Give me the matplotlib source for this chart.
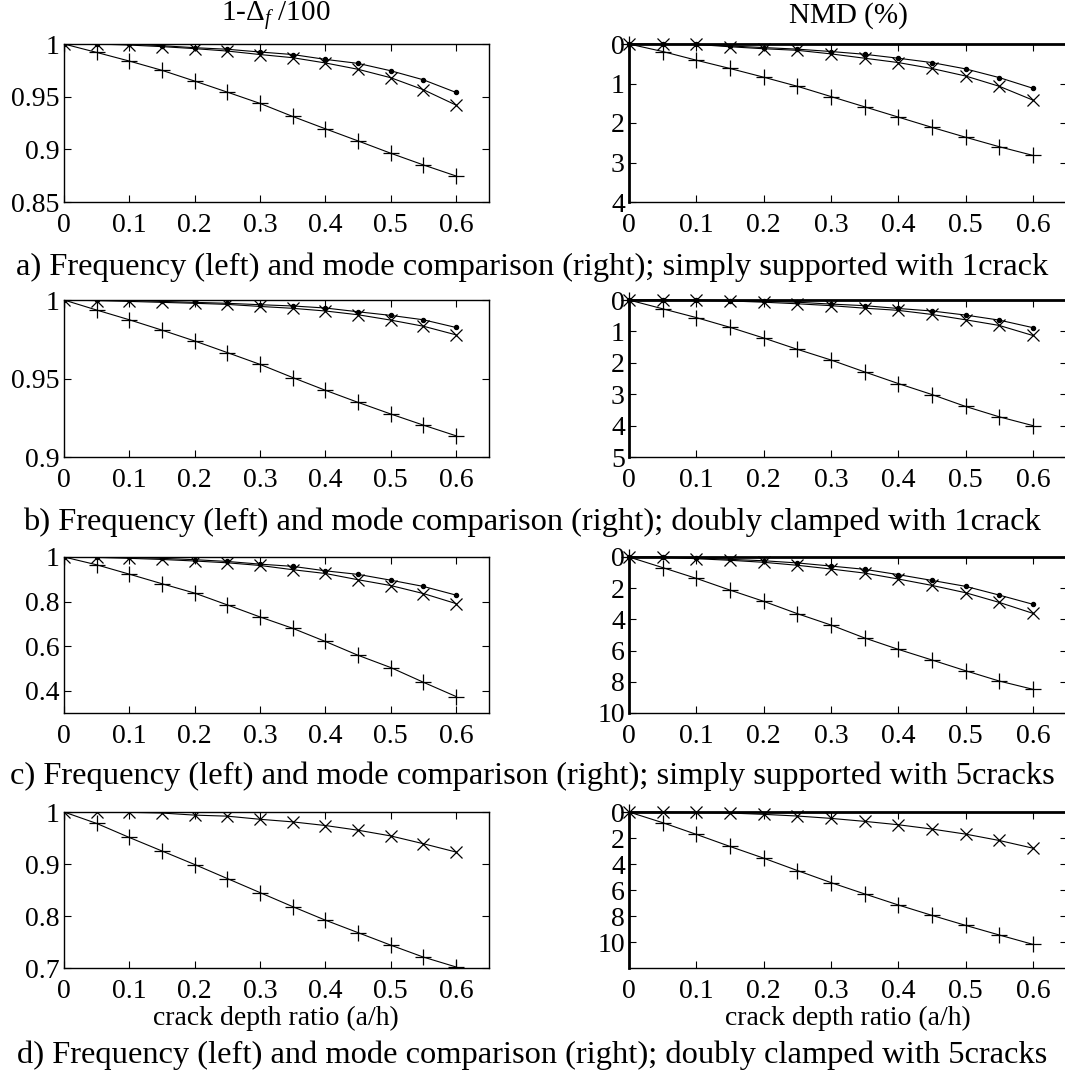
import numpy as np
import matplotlib
matplotlib.use("Agg")
import matplotlib.pyplot as plt

plt.rcParams['font.family'] = ['Liberation Serif', 'DejaVu Serif']
plt.rcParams['mathtext.fontset'] = 'custom'
plt.rcParams['mathtext.rm'] = 'Liberation Serif'
plt.rcParams['mathtext.it'] = 'Liberation Serif:italic'

depth = [0, 0.05, 0.1, 0.15, 0.2, 0.25, 0.3, 0.35, 0.4, 0.45, 0.5, 0.55, 0.6]

# a) simply supported, 1 crack
freq_a_dot = [1, 1, 1.0, 0.9984, 0.9965, 0.995, 0.9924, 0.990, 0.9854, 0.9816, 0.9746, 0.966, 0.954]
freq_a_cross = [1, 1.0, 0.999, 0.9975, 0.9956, 0.9933, 0.990, 0.987, 0.982, 0.976, 0.968, 0.9566, 0.942]
freq_a_plus = [1, 0.992, 0.9838, 0.975, 0.9648, 0.9543, 0.9436, 0.9312, 0.9195, 0.908, 0.8963, 0.8852, 0.8747]
nmd_a_dot = [0, 0.01, 0.01, 0.05, 0.09, 0.13, 0.19, 0.26, 0.36, 0.47, 0.63, 0.85, 1.12]
nmd_a_cross = [0, 0.01, 0.01, 0.07, 0.12, 0.16, 0.25, 0.36, 0.47, 0.62, 0.81, 1.07, 1.42]
nmd_a_plus = [0, 0.19, 0.41, 0.62, 0.84, 1.07, 1.33, 1.59, 1.85, 2.11, 2.36, 2.60, 2.82]

# b) doubly clamped, 1 crack
freq_b_dot = [1, 1, 0.9998, 0.9991, 0.9985, 0.9979, 0.997, 0.9962, 0.9949, 0.9925, 0.9902, 0.9874, 0.9825]
freq_b_cross = [1, 0.9996, 0.9991, 0.9985, 0.9979, 0.9972, 0.9959, 0.9947, 0.993, 0.9906, 0.9872, 0.9833, 0.9778]
freq_b_plus = [1, 0.9936, 0.9874, 0.9808, 0.9739, 0.9665, 0.959, 0.9506, 0.9425, 0.9348, 0.9274, 0.9203, 0.9135]
nmd_b_dot = [0, 0, 0, 0.02, 0.04, 0.07, 0.13, 0.18, 0.27, 0.35, 0.48, 0.64, 0.88]
nmd_b_cross = [0, 0, 0.01, 0.03, 0.07, 0.12, 0.18, 0.26, 0.33, 0.46, 0.63, 0.81, 1.13]
nmd_b_plus = [0, 0.28, 0.56, 0.87, 1.21, 1.57, 1.91, 2.29, 2.66, 3.01, 3.39, 3.72, 4.0]

# c) simply supported, 5 cracks
freq_c_dot = [1, 1, 0.998, 0.994, 0.988, 0.980, 0.968, 0.958, 0.938, 0.922, 0.896, 0.868, 0.829]
freq_c_cross = [1, 0.998, 0.994, 0.989, 0.982, 0.974, 0.962, 0.943, 0.926, 0.898, 0.872, 0.836, 0.791]
freq_c_plus = [1, 0.965, 0.923, 0.880, 0.838, 0.785, 0.731, 0.680, 0.621, 0.559, 0.504, 0.438, 0.374]
nmd_c_dot = [0, 0, 0.06, 0.15, 0.24, 0.38, 0.58, 0.79, 1.13, 1.5, 1.88, 2.44, 3.03]
nmd_c_cross = [0, 0, 0.11, 0.21, 0.34, 0.53, 0.77, 1.03, 1.41, 1.82, 2.29, 2.91, 3.61]
nmd_c_plus = [0, 0.68, 1.37, 2.12, 2.84, 3.63, 4.36, 5.19, 5.92, 6.6, 7.29, 7.95, 8.48]

# d) doubly clamped, 5 cracks
freq_d_cross = [1, 1, 0.9994, 0.998, 0.994, 0.992, 0.986, 0.981, 0.974, 0.965, 0.954, 0.939, 0.923]
freq_d_plus = [1, 0.978, 0.951, 0.925, 0.899, 0.872, 0.845, 0.818, 0.792, 0.768, 0.744, 0.721, 0.702]
nmd_d_cross = [0, 0, 0.03, 0.08, 0.18, 0.31, 0.49, 0.72, 0.98, 1.31, 1.7, 2.19, 2.78]
nmd_d_plus = [0, 0.82, 1.72, 2.65, 3.55, 4.5, 5.43, 6.3, 7.15, 7.95, 8.72, 9.46, 10.18]

captions = [
    "a) Frequency (left) and mode comparison (right); simply supported with 1crack",
    "b) Frequency (left) and mode comparison (right); doubly clamped with 1crack",
    "c) Frequency (left) and mode comparison (right); simply supported with 5cracks",
    "d) Frequency (left) and mode comparison (right); doubly clamped with 5cracks",
]

rows = [
    dict(freq=[freq_a_dot, freq_a_cross, freq_a_plus], nmd=[nmd_a_dot, nmd_a_cross, nmd_a_plus],
         flim=(0.85, 1), fticks=[0.85, 0.9, 0.95, 1], ftl=['0.85', '0.9', '0.95', '1'],
         nlim=(4, 0), nticks=[0, 1, 2, 3, 4]),
    dict(freq=[freq_b_dot, freq_b_cross, freq_b_plus], nmd=[nmd_b_dot, nmd_b_cross, nmd_b_plus],
         flim=(0.9, 1), fticks=[0.9, 0.95, 1], ftl=['0.9', '0.95', '1'],
         nlim=(5, 0), nticks=[0, 1, 2, 3, 4, 5]),
    dict(freq=[freq_c_dot, freq_c_cross, freq_c_plus], nmd=[nmd_c_dot, nmd_c_cross, nmd_c_plus],
         flim=(0.3, 1), fticks=[0.4, 0.6, 0.8, 1], ftl=['0.4', '0.6', '0.8', '1'],
         nlim=(10, 0), nticks=[0, 2, 4, 6, 8, 10]),
    dict(freq=[None, freq_d_cross, freq_d_plus], nmd=[None, nmd_d_cross, nmd_d_plus],
         flim=(0.7, 1), fticks=[0.7, 0.8, 0.9, 1], ftl=['0.7', '0.8', '0.9', '1'],
         nlim=(12, 0), nticks=[0, 2, 4, 6, 8, 10]),
]

markers = [('.', 6), ('x', 8), ('+', 11)]
xticks = [0, 0.1, 0.2, 0.3, 0.4, 0.5, 0.6]
xtl = ['0', '0.1', '0.2', '0.3', '0.4', '0.5', '0.6']

W, H = 1065, 1074
fig = plt.figure(figsize=(W / 100, H / 100), dpi=100)

tops = [44, 300, 557, 812]
bots = [202, 457, 713, 968]
cap_y = [267, 522, 776, 1055]
fs = 20


def style(ax):
    ax.set_xlim(0, 0.65)
    ax.set_xticks(xticks)
    ax.set_xticklabels(xtl)
    ax.tick_params(direction='in', top=True, right=True, length=5, width=0.8,
                   labelsize=fs, pad=3)
    ax.tick_params(axis='x', pad=8)


for i, r in enumerate(rows):
    b = 1 - bots[i] / H
    h = (bots[i] - tops[i]) / H
    axl = fig.add_axes([64 / W, b, (488.7 - 64) / W, h])
    axr = fig.add_axes([629 / W, b, (1066.5 - 629) / W, h])

    for s, (m, ms) in zip(r['freq'], markers):
        if s is not None:
            axl.plot(depth, s, color='k', lw=0.8, marker=m, ms=ms, mew=0.9)
    for s, (m, ms) in zip(r['nmd'], markers):
        if s is not None:
            axr.plot(depth, s, color='k', lw=0.8, marker=m, ms=ms, mew=0.9, clip_on=False)

    style(axl)
    axl.set_ylim(*r['flim'])
    axl.set_yticks(r['fticks'])
    axl.set_yticklabels(r['ftl'])
    for sp in axl.spines.values():
        sp.set_linewidth(1.0)

    style(axr)
    axr.set_ylim(*r['nlim'])
    axr.set_yticks(r['nticks'])
    axr.set_yticklabels([str(t) for t in r['nticks']])
    axr.spines['top'].set_linewidth(2.0)
    axr.spines['left'].set_linewidth(2.0)
    axr.spines['bottom'].set_linewidth(1.0)
    axr.spines['right'].set_visible(False)

    fig.text(532 / W, 1 - cap_y[i] / H, captions[i], ha='center', va='center', fontsize=23.4)

    if i == 0:
        fig.text(276 / W, 1 - 16 / H, r'1-$\Delta_f$ /100', ha='center', va='center', fontsize=21)
        fig.text(848 / W, 1 - 16 / H, 'NMD (%)', ha='center', va='center', fontsize=21)
    if i == 3:
        fig.text(276 / W, 1 - 1018 / H, 'crack depth ratio (a/h)', ha='center', va='center', fontsize=20)
        fig.text(848 / W, 1 - 1018 / H, 'crack depth ratio (a/h)', ha='center', va='center', fontsize=20)

fig.savefig('out.png', dpi=100)
